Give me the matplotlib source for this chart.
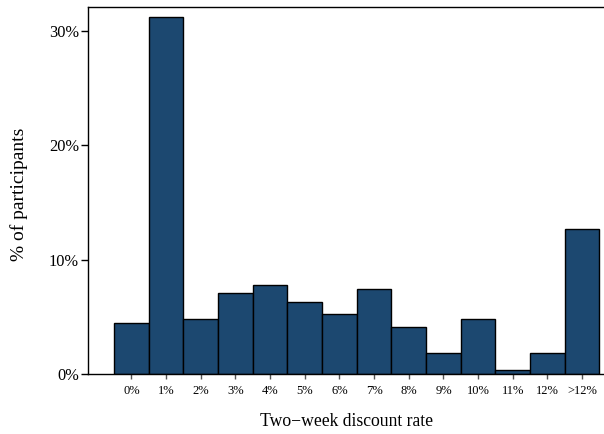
import matplotlib
matplotlib.use("Agg")
import matplotlib.pyplot as plt
import numpy as np

plt.rcParams['font.family'] = ['Liberation Serif', 'DejaVu Serif']

categories = ["0%", "1%", "2%", "3%", "4%", "5%", "6%", "7%", "8%", "9%", "10%", "11%", "12%", ">12%"]
percent = [4.49, 31.2, 4.84, 7.06, 7.81, 6.30, 5.22, 7.44, 4.09, 1.86, 4.84, 0.38, 1.86, 12.66]
yticks = [0, 10, 20, 30]
ytick_labels = ["0%", "10%", "20%", "30%"]

fig = plt.figure(figsize=(6.04, 4.34), dpi=100)
ax = fig.add_axes([88/604, 60/434, 1 - 88/604, 367/434])

x = np.arange(len(categories))
ax.bar(x, percent, width=1.0, color="#1c4870", edgecolor="black", linewidth=1.0)

ax.set_xlim(-1.25, 13.63)
ax.set_ylim(0, 32.1)
ax.set_xticks(x)
ax.set_xticklabels(categories, fontsize=9)
ax.set_yticks(yticks)
ax.set_yticklabels(ytick_labels, fontsize=11.8)

ax.spines['right'].set_visible(False)
for s in ['left', 'top', 'bottom']:
    ax.spines[s].set_linewidth(1.0)
ax.tick_params(axis='x', length=3.6, width=1, color='#555555', pad=4)
ax.tick_params(axis='y', length=5, width=1, pad=1.5)

ax.set_xlabel("Two\u2212week discount rate", fontsize=12.7, labelpad=11.5)
ax.set_ylabel("% of participants", fontsize=14)
ax.yaxis.set_label_coords(-0.116, 0.489)

fig.savefig("out.png", dpi=100)
